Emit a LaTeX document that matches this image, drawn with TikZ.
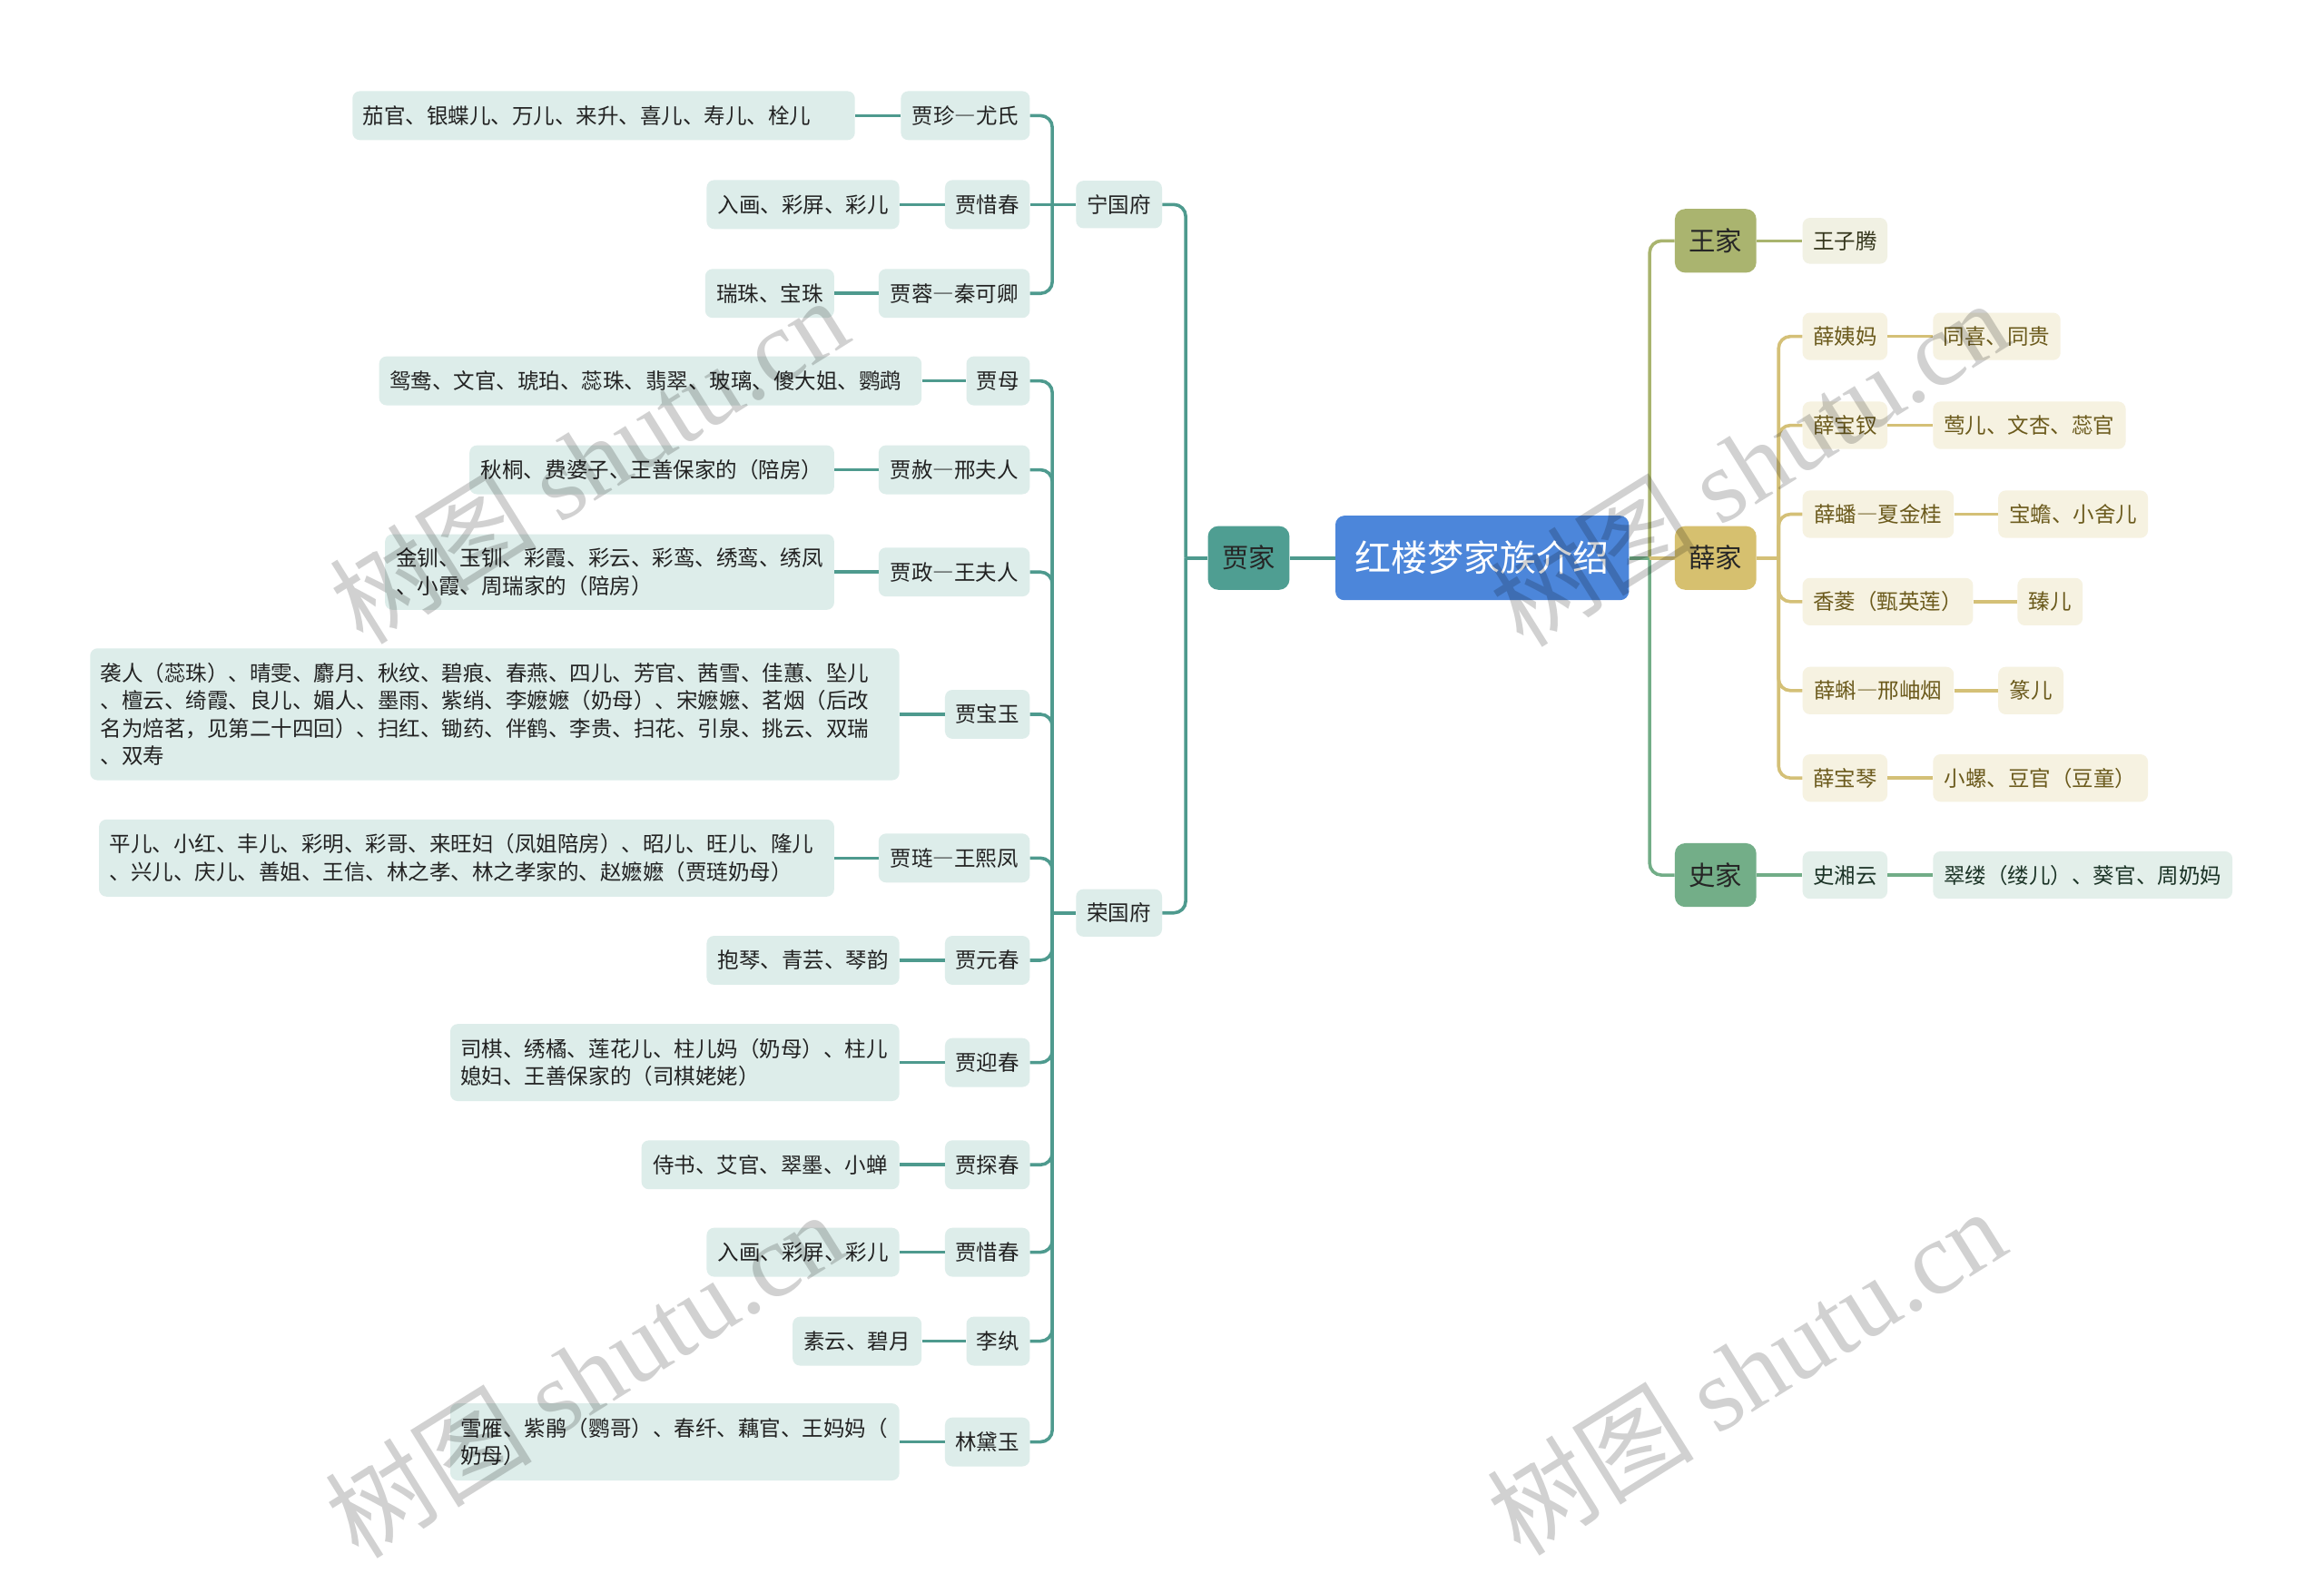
\documentclass[tikz,border=0pt]{standalone}
\usepackage{fontspec}
\setmainfont{Noto Sans CJK SC}
\newfontfamily\cjkfw[RawFeature=+fwid]{Noto Sans CJK SC}
\newfontfamily\wmlatin{Liberation Serif}
\newcommand\fdash{{\cjkfw —}}
\definecolor{jiaLine}{HTML}{4E9A8E}
\definecolor{jiaFam}{HTML}{4F9E92}
\definecolor{jiaFill}{HTML}{DDEDEA}
\definecolor{jiaText}{HTML}{222222}
\definecolor{cenFill}{HTML}{4C86DA}
\definecolor{wangLine}{HTML}{A9B46E}
\definecolor{wangFam}{HTML}{AAB46F}
\definecolor{wangFill}{HTML}{F1F1E3}
\definecolor{wangText}{HTML}{33341A}
\definecolor{xueLine}{HTML}{D4C077}
\definecolor{xueFam}{HTML}{D6C06F}
\definecolor{xueFill}{HTML}{F6F2E1}
\definecolor{xueText}{HTML}{6B5A1C}
\definecolor{shiLine}{HTML}{72AD87}
\definecolor{shiFam}{HTML}{73AE88}
\definecolor{shiFill}{HTML}{E3EFEA}
\definecolor{shiText}{HTML}{1B3326}
\begin{document}
\begin{tikzpicture}[x=1pt,y=-1pt,
  base/.style={rounded corners=5pt, inner xsep=7pt, inner ysep=0pt, minimum height=33pt,
    font=\fontsize{14.4}{18.7}\selectfont, align=left},
  jbox/.style={base, fill=jiaFill, text=jiaText},
  wbox/.style={base, fill=wangFill, text=wangText, minimum height=31pt},
  xbox/.style={base, fill=xueFill, text=xueText, minimum height=32pt},
  sbox/.style={base, fill=shiFill, text=shiText, minimum height=32pt},
  fam/.style={rounded corners=7pt, minimum width=55pt, minimum height=43pt, inner sep=0pt,
    font=\fontsize{18}{20}\selectfont},
  jline/.style={draw=jiaLine, line width=2.2pt, rounded corners=8pt},
  wline/.style={draw=wangLine, line width=2.2pt, rounded corners=8pt},
  xline/.style={draw=xueLine, line width=2.2pt, rounded corners=8pt},
  sline/.style={draw=shiLine, line width=2.2pt, rounded corners=8pt},
  wm/.style={text=black, text opacity=0.18, font=\fontsize{70}{70}\selectfont, inner sep=0pt}
]
\useasboundingbox (0,0) rectangle (1568,1061);
\fill[white] (0,0) rectangle (1568,1061);

% central and families
\node[rounded corners=6pt, fill=cenFill, text=white, minimum width=198pt, minimum height=57pt,
  inner sep=0pt, font=\fontsize{24.5}{26}\selectfont] (cen) at (1000,376.5) {红楼梦家族介绍};
\node[fam, fill=jiaFam, text=black!85] (jia) at (842.5,376.5) {贾家};
\node[fam, fill=wangFam, text=black!85] (wang) at (1157.5,162.5) {王家};
\node[fam, fill=xueFam, text=black!85] (xue) at (1157.5,376.5) {薛家};
\node[fam, fill=shiFam, text=black!85] (shi) at (1157.5,590.5) {史家};

% Ningguo branch
\node[jbox, minimum width=58pt, minimum height=32pt] (ning) at (755,138) {宁国府};
\node[jbox, anchor=east, minimum width=87pt] (m1) at (695,78) {贾珍\fdash 尤氏};
\node[jbox, anchor=east, minimum width=57pt] (m2) at (695,138) {贾惜春};
\node[jbox, anchor=east, minimum width=102pt] (m3) at (695,198) {贾蓉\fdash 秦可卿};
\node[jbox, anchor=east, text width=325pt] (l1) at (577,78) {茄官、银蝶儿、万儿、来升、喜儿、寿儿、栓儿};
\node[jbox, anchor=east, minimum width=130pt] (l2) at (607,138) {入画、彩屏、彩儿};
\node[jbox, anchor=east, minimum width=87pt] (l3) at (563,198) {瑞珠、宝珠};

% Rongguo branch
\node[jbox, minimum width=58pt, minimum height=32pt] (rong) at (755,616) {荣国府};
\node[jbox, anchor=east, minimum width=42pt] (a1) at (695,257) {贾母};
\node[jbox, anchor=east, minimum width=102pt] (a2) at (695,317) {贾赦\fdash 邢夫人};
\node[jbox, anchor=east, minimum width=102pt] (a3) at (695,386) {贾政\fdash 王夫人};
\node[jbox, anchor=east, minimum width=57pt] (a4) at (695,482) {贾宝玉};
\node[jbox, anchor=east, minimum width=102pt] (a5) at (695,579) {贾琏\fdash 王熙凤};
\node[jbox, anchor=east, minimum width=57pt] (a6) at (695,648) {贾元春};
\node[jbox, anchor=east, minimum width=57pt] (a7) at (695,717) {贾迎春};
\node[jbox, anchor=east, minimum width=57pt] (a8) at (695,786) {贾探春};
\node[jbox, anchor=east, minimum width=57pt] (a9) at (695,845) {贾惜春};
\node[jbox, anchor=east, minimum width=42pt] (a10) at (695,905) {李纨};
\node[jbox, anchor=east, minimum width=57pt] (a11) at (695,973) {林黛玉};

\node[jbox, anchor=east, text width=352pt] (b1) at (622,257) {鸳鸯、文官、琥珀、蕊珠、翡翠、玻璃、傻大姐、鹦鹉};
\node[jbox, anchor=east, minimum width=246pt] (b2) at (563,317) {秋桐、费婆子、王善保家的（陪房）};
\node[jbox, anchor=east, minimum width=303pt, minimum height=51pt] (b3) at (563,386) {金钏、玉钏、彩霞、彩云、彩鸾、绣鸾、绣凤\\、小霞、周瑞家的（陪房）};
\node[jbox, anchor=east, text width=532pt, minimum height=89pt] (b4) at (607,482) {袭人（蕊珠）、晴雯、麝月、秋纹、碧痕、春燕、四儿、芳官、茜雪、佳蕙、坠儿\\、檀云、绮霞、良儿、媚人、墨雨、紫绡、李嬷嬷（奶母）、宋嬷嬷、茗烟（后改\\名为焙茗，见第二十四回）、扫红、锄药、伴鹤、李贵、扫花、引泉、挑云、双瑞\\、双寿};
\node[jbox, anchor=east, text width=482pt, minimum height=52pt] (b5) at (563,579) {平儿、小红、丰儿、彩明、彩哥、来旺妇（凤姐陪房）、昭儿、旺儿、隆儿\\、兴儿、庆儿、善姐、王信、林之孝、林之孝家的、赵嬷嬷（贾琏奶母）};
\node[jbox, anchor=east, minimum width=130pt] (b6) at (607,648) {抱琴、青芸、琴韵};
\node[jbox, anchor=east, text width=289pt, minimum height=52pt] (b7) at (607,717) {司棋、绣橘、莲花儿、柱儿妈（奶母）、柱儿\\媳妇、王善保家的（司棋姥姥）};
\node[jbox, anchor=east, minimum width=174pt] (b8) at (607,786) {侍书、艾官、翠墨、小蝉};
\node[jbox, anchor=east, minimum width=130pt] (b9) at (607,845) {入画、彩屏、彩儿};
\node[jbox, anchor=east, minimum width=87pt] (b10) at (622,905) {素云、碧月};
\node[jbox, anchor=east, text width=289pt, minimum height=52pt] (b11) at (607,973) {雪雁、紫鹃（鹦哥）、春纤、藕官、王妈妈（\\奶母）};

% right side
\node[wbox, anchor=west, minimum width=57pt] (w1) at (1216,162.5) {王子腾};
\node[xbox, anchor=west, minimum width=57pt] (x1) at (1216,227) {薛姨妈};
\node[xbox, anchor=west, minimum width=57pt] (x2) at (1216,287) {薛宝钗};
\node[xbox, anchor=west, minimum width=102pt] (x3) at (1216,347) {薛蟠\fdash 夏金桂};
\node[xbox, anchor=west, minimum width=115pt] (x4) at (1216,406) {香菱（甄英莲）};
\node[xbox, anchor=west, minimum width=102pt] (x5) at (1216,466) {薛蝌\fdash 邢岫烟};
\node[xbox, anchor=west, minimum width=57pt] (x6) at (1216,525) {薛宝琴};
\node[xbox, anchor=west, minimum width=86pt] (y1) at (1304,227) {同喜、同贵};
\node[xbox, anchor=west, minimum width=130pt] (y2) at (1304,287) {莺儿、文杏、蕊官};
\node[xbox, anchor=west, minimum width=101pt] (y3) at (1348,347) {宝蟾、小舍儿};
\node[xbox, anchor=west, minimum width=44pt] (y4) at (1361,406) {臻儿};
\node[xbox, anchor=west, minimum width=44pt] (y5) at (1348,466) {篆儿};
\node[xbox, anchor=west, minimum width=145pt] (y6) at (1304,525) {小螺、豆官（豆童）};
\node[sbox, anchor=west, minimum width=57pt] (s1) at (1216,590.5) {史湘云};
\node[sbox, anchor=west, minimum width=202pt] (s2) at (1304,590.5) {翠缕（缕儿）、葵官、周奶妈};

% junctions
\coordinate (jn) at (710,138);
\coordinate (jr) at (710,616);
\coordinate (jj) at (800,376.5);
\coordinate (jc) at (1113,376.5);
\coordinate (jx) at (1200,376.5);

% connectors: Jia
\draw[jline] (cen.west) -- (jia.east);
\draw[jline] (jia.west) -- (jj);
\draw[jline] (jj) |- (ning.east);
\draw[jline] (jj) |- (rong.east);
\draw[jline] (ning.west) -- (jn);
\draw[jline] (jn) |- (m1.east);
\draw[jline] (jn) -- (m2.east);
\draw[jline] (jn) |- (m3.east);
\draw[jline] (l1.east) -- (m1.west);
\draw[jline] (l2.east) -- (m2.west);
\draw[jline] (l3.east) -- (m3.west);
\draw[jline] (rong.west) -- (jr);
\foreach \i in {1,...,11} {
  \draw[jline] (jr) |- (a\i.east);
  \draw[jline] (b\i.east) -- (a\i.west);
}

% connectors: right
\draw[sline] (cen.east) -- (jc);
\draw[wline] (jc) |- (wang.west);
\draw[sline] (jc) |- (shi.west);
\draw[xline] (jc) -- (xue.west);
\draw[wline] (wang.east) -- (w1.west);
\draw[xline] (xue.east) -- (jx);
\foreach \i in {1,...,6} {
  \draw[xline] (jx) |- (x\i.west);
  \draw[xline] (x\i.east) -- (y\i.west);
}
\draw[sline] (shi.east) -- (s1.west);
\draw[sline] (s1.east) -- (s2.west);

% watermarks
\node[wm, rotate=32] (wm1) at (397,310) {树图 {\wmlatin shutu.cn}};
\node[wm, rotate=32] (wm2) at (1180,312) {树图 {\wmlatin shutu.cn}};
\node[wm, rotate=32] (wm3) at (394,927) {树图 {\wmlatin shutu.cn}};
\node[wm, rotate=32] (wm4) at (1178,925) {树图 {\wmlatin shutu.cn}};
\end{tikzpicture}
\end{document}
